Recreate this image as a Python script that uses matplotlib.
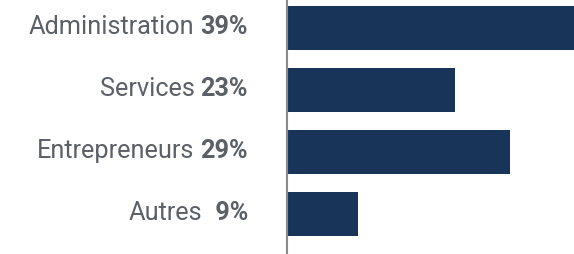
import matplotlib

matplotlib.use("Agg")
import matplotlib.pyplot as plt
from matplotlib.transforms import offset_copy

# Data (bar lengths in %, labels as printed)
categories = ["Administration", "Services", "Entrepreneurs", "Autres"]
pct_labels = ["39%", "23%", "29%", " 9%"]
bar_values = [39.0, 22.8, 30.3, 9.6]

BAR_COLOR = "#183559"
TEXT_COLOR = "#5b5f66"
plt.rcParams["font.family"] = ["Roboto", "DejaVu Sans"]

fig = plt.figure(figsize=(5.74, 2.55), dpi=100)
ax = fig.add_axes([0.5, 0.0, 0.5, 1.0])

pos = list(range(len(categories)))
ax.barh(pos, bar_values, height=0.71, color=BAR_COLOR, left=0)
ax.set_xlim(0, 39.0)
ax.set_ylim(3.645, -0.468)

for side in ("top", "right", "bottom"):
    ax.spines[side].set_visible(False)
ax.spines["left"].set_color("#8a8a8a")
ax.spines["left"].set_linewidth(1.5)
ax.set_xticks([])
ax.set_yticks([])

# percent in bold right-aligned, category name in regular just left of it
fig.canvas.draw()
renderer = fig.canvas.get_renderer()
for p, name, pct in zip(pos, categories, pct_labels):
    tr = offset_copy(ax.get_yaxis_transform(), fig=fig, x=-39, y=2, units="dots")
    t = ax.text(0, p, pct, transform=tr, ha="right", va="center",
                fontsize=18.2, fontweight="bold", color=TEXT_COLOR)
    w = t.get_window_extent(renderer).width
    tr2 = offset_copy(ax.get_yaxis_transform(), fig=fig, x=-39 - w - 6, y=2, units="dots")
    ax.text(0, p, name, transform=tr2, ha="right", va="center",
            fontsize=18.2, color=TEXT_COLOR)

fig.savefig("out.png", dpi=100)
